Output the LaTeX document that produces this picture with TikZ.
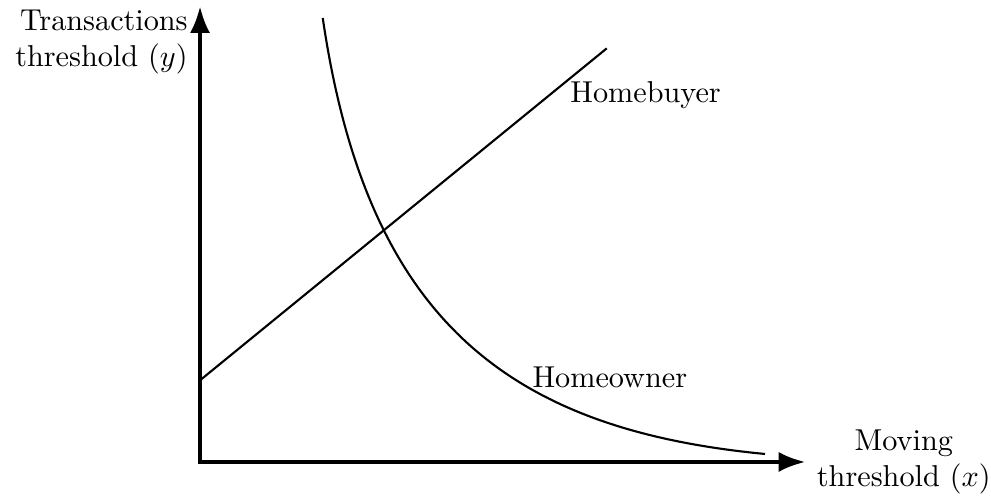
\documentclass[tikz,border=0pt]{standalone}
\usepackage{tikz}
\usetikzlibrary{arrows.meta}

\tikzset{
  axis/.style={line width=1.3pt,{Latex}-{Latex}},
  graphline/.style={line width=0.7pt},
  lbl/.style={font=\normalsize,inner sep=0pt}
}

\begin{document}
\begin{tikzpicture}
  \useasboundingbox (-2.326,-0.465) rectangle (9.198,5.372);

  % Axes
  \coordinate (O) at (0,0);
  \coordinate (ytop) at (0,5.3);
  \coordinate (xend) at (7.04,0);
  \draw[axis] (ytop) -- (O) -- (xend);
  \node[left,align=right] (ylabel) at (-0.02,4.88) {Transactions\\threshold $(y)$};
  \node[right,align=center] (xlabel) at (7.05,0) {Moving\\threshold $(x)$};

  % Homebuyer line
  \coordinate (hbstart) at (0,0.95);
  \coordinate (hbend) at (4.73,4.81);
  \draw[graphline] (hbstart) -- (hbend);
  \node[lbl,anchor=west] (hb) at (4.3,4.27) {Homebuyer};

  % Homeowner curve
  \coordinate (hostart) at (1.427,5.163);
  \coordinate (hoend) at (6.57,0.093);
  \draw[graphline] (hostart) .. controls (1.94,1.66) and (3.57,0.38) .. (hoend);
  \node[lbl,anchor=west] (ho) at (3.86,0.98) {Homeowner};
\end{tikzpicture}
\end{document}
